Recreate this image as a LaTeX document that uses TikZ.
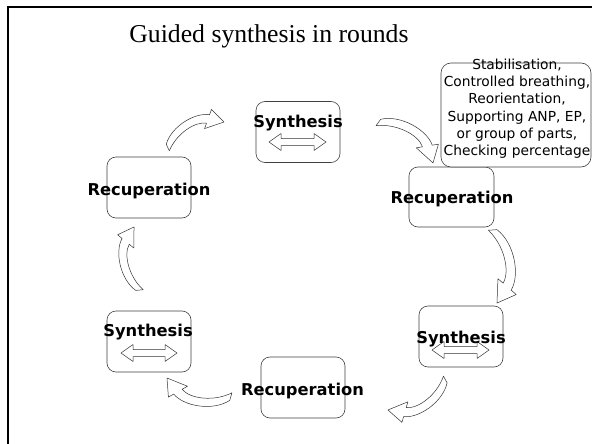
\documentclass[tikz,border=0pt]{standalone}
\usepackage{fontspec}
\newfontfamily\comic{DejaVu Sans}
\newfontfamily\titlef{Liberation Serif}
\newcommand\curvarrow[5]{%
  \begin{scope}[shift={(#1,#2)}, rotate=#3, scale=#4, yscale=#5, x=1pt, y=1pt]
    \draw[arr] (0,-0.06) -- (0,0.08) .. controls (0.2,0.35) and (0.645,0.402) .. (0.837,0.241)
      -- (0.902,0.318) -- (1,0) -- (0.670,0.042) -- (0.735,0.119)
      .. controls (0.582,0.248) and (0.22,0.18) .. cycle;
  \end{scope}}
\newcommand\dblarrow[3]{%
  \draw[arr] (#1,#3) -- (#1+12,#3-8.5) -- (#1+12,#3-3.5) -- (#2-12,#3-3.5) -- (#2-12,#3-8.5)
    -- (#2,#3) -- (#2-12,#3+8.5) -- (#2-12,#3+3.5) -- (#1+12,#3+3.5) -- (#1+12,#3+8.5) -- cycle;}
\begin{document}
\begin{tikzpicture}[x=1pt,y=-1pt,
  box/.style={draw=black!75, line width=0.6pt, rounded corners=9pt, minimum width=84pt, minimum height=61pt, inner sep=0pt},
  lbl/.style={font=\comic\bfseries\fontsize{16.3}{18}\selectfont, anchor=base, inner sep=0pt},
  arr/.style={draw=black!80, line width=0.5pt, fill=white, line join=round}]
\useasboundingbox[fill=white] (0,0) rectangle (592,444);
\draw[line width=2.2pt] (8,444) -- (8,7) -- (592,7);
\node[font=\titlef\fontsize{25.7}{30}\selectfont, anchor=base, inner sep=0pt] (title) at (269,43) {Guided synthesis in rounds};
% boxes
\node[box] (synT) at (298,132) {};
\node[box, minimum width=85pt, minimum height=60pt] (recR) at (451.5,197) {};
\node[box] (synR) at (461,336.5) {};
\node[box] (recB) at (303,387.5) {};
\node[box] (synL) at (149,341.5) {};
\node[box] (recL) at (149,187.5) {};
% double arrows
\dblarrow{269}{326}{142}
\dblarrow{121}{177}{353}
\dblarrow{432}{489}{350}
% labels
\node[lbl] (synTl) at (298,127) {Synthesis};
\node[lbl] (recRl) at (452,203) {Recuperation};
\node[lbl] (synRl) at (461,343) {Synthesis};
\node[lbl] (recBl) at (302.5,395) {Recuperation};
\node[lbl] (synLl) at (148,336) {Synthesis};
\node[lbl] (recLl) at (149,195) {Recuperation};
% callout
\node[draw=black!75, line width=0.6pt, rounded corners=10pt, fill=white, minimum width=150pt, minimum height=104pt, inner sep=0pt] (callout) at (516,115) {};
\node[font=\comic\fontsize{13.8}{17.3}\selectfont, align=center, anchor=north, inner sep=0pt] (calltext) at (517,58.5)
  {Stabilisation,\\Controlled breathing,\\Reorientation,\\Supporting ANP, EP,\\or group of parts,\\Checking percentage};
% curved arrows
\curvarrow{168}{148}{24.9}{61.7}{0.85}
\curvarrow{378}{123}{-36}{68}{0.85}
\curvarrow{492}{230}{-86.1}{73.2}{0.85}
\curvarrow{445}{379}{-151.5}{64.9}{0.85}
\curvarrow{231}{396}{164.3}{66.5}{0.85}
\curvarrow{140}{290}{95.4}{63.3}{0.85}
\end{tikzpicture}
\end{document}
